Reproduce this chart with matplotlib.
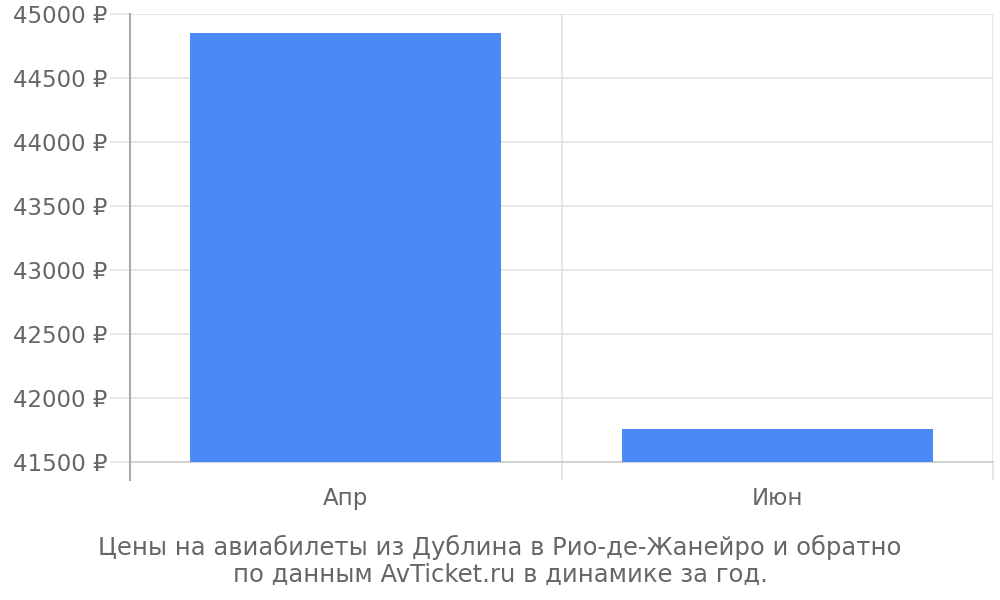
import matplotlib
matplotlib.use("Agg")
import matplotlib.pyplot as plt
from matplotlib.lines import Line2D

categories = ["Апр", "Июн"]
values = [44852, 41758]
yticks = [41500, 42000, 42500, 43000, 43500, 44000, 44500, 45000]
title_lines = ["Цены на авиабилеты из Дублина в Рио-де-Жанейро и обратно",
               "по данным AvTicket.ru в динамике за год."]

plt.rcParams['font.family'] = ['DejaVu Sans']
fig = plt.figure(figsize=(10, 6), dpi=100)
ax = fig.add_axes([0.130, 0.23, 0.863, 0.7467])

xs = [i + 0.5 for i in range(len(categories))]
ax.bar(xs, [v - yticks[0] for v in values], bottom=yticks[0], width=0.72,
       color="#4d88f9", zorder=3)

ax.set_xlim(0, len(categories))
ax.set_ylim(yticks[0], yticks[-1])
ax.set_yticks(yticks)
ax.set_yticklabels([f"{t} ₽" for t in yticks])
ax.set_xticks(xs)
ax.set_xticklabels(categories)
ax.set_xticks(range(len(categories) + 1), minor=True)

ax.grid(axis="y", color="#e3e3e3", linewidth=1.2, zorder=0)
ax.grid(axis="x", which="minor", color="#e3e3e3", linewidth=1.2, zorder=0)

ax.tick_params(axis="y", length=14.4, color="#e3e3e3", width=1.2,
               labelsize=16.5, labelcolor="#666666", pad=2)
ax.tick_params(axis="x", which="major", length=0, labelsize=16.5,
               labelcolor="#666666", pad=18)
ax.tick_params(axis="x", which="minor", length=13, color="#e3e3e3", width=1.2)

for s in ["top", "right"]:
    ax.spines[s].set_visible(False)
ax.spines["bottom"].set_color("#cccccc")
ax.spines["bottom"].set_linewidth(1.2)
ax.spines["left"].set_visible(False)
ax.add_line(Line2D([0, 0], [-0.04, 1.0], transform=ax.transAxes, color="#aaaaaa",
                   linewidth=1.5, clip_on=False, zorder=4))

fig.text(0.5, 1 - 547 / 600, title_lines[0], ha="center", va="center",
         fontsize=17.5, color="#666666")
fig.text(0.5, 1 - 575 / 600, title_lines[1], ha="center", va="center",
         fontsize=17.5, color="#666666")

fig.savefig("out.png", dpi=100)
